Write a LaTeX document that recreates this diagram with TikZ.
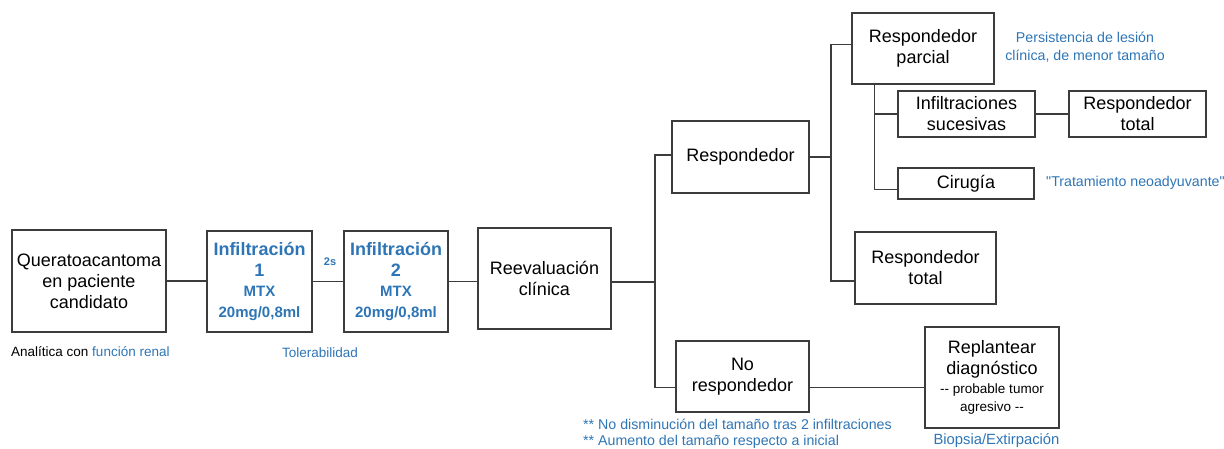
\documentclass[tikz,border=0pt]{standalone}
\usepackage{fontspec}
\setmainfont{Liberation Sans}
\newfontfamily\plainfont{Liberation Sans}
\definecolor{tblue}{RGB}{46,117,182}
\definecolor{lgray}{RGB}{60,60,60}
\begin{document}
\begin{tikzpicture}[x=1pt,y=-1pt,
  box/.style={draw=lgray,line width=1.1pt,rectangle,align=center,inner sep=0pt,font=\fontsize{18}{21}\selectfont},
  conn/.style={draw=lgray,line width=1.1pt},
  note/.style={text=tblue,inner sep=0pt,align=center,font=\fontsize{13.5}{18}\selectfont},
  bignote/.style={note,font=\fontsize{14.2}{18.5}\selectfont},
  infbox/.style={box,text=tblue,font=\fontsize{18}{20.5}\selectfont\bfseries}]
\useasboundingbox (0,0) rectangle (1224,449);
% boxes
\node[box,minimum width=154pt,minimum height=102pt] (q) at (89,281) {Queratoacantoma\\en paciente\\candidato};
\node[infbox,minimum width=105pt,minimum height=101pt] (i1) at (259.5,281.5) {Infiltración\\1\\{\fontsize{15}{20.5}\selectfont MTX}\\{\fontsize{15}{20.5}\selectfont 20mg/0,8ml}};
\node[infbox,minimum width=104pt,minimum height=101pt] (i2) at (396,281.5) {Infiltración\\2\\{\fontsize{15}{20.5}\selectfont MTX}\\{\fontsize{15}{20.5}\selectfont 20mg/0,8ml}};
\node[box,minimum width=133pt,minimum height=101pt] (re) at (544.5,278.5) {Reevaluación\\clínica};
\node[box,minimum width=137pt,minimum height=72pt] (resp) at (740.5,157) {Respondedor};
\node[box,minimum width=133pt,minimum height=71pt] (nr) at (742.5,376.5) {No\\respondedor};
\node[box,minimum width=142pt,minimum height=71pt] (par) at (923,48.5) {Respondedor\\parcial};
\node[box,minimum width=137pt,minimum height=46pt] (inf) at (966.5,114) {Infiltraciones\\sucesivas};
\node[box,minimum width=137pt,minimum height=46pt] (rt1) at (1137.5,114) {Respondedor\\total};
\node[box,minimum width=136pt,minimum height=31pt] (cir) at (966,183.5) {Cirugía};
\node[box,minimum width=141pt,minimum height=72pt] (rt2) at (925.5,268) {Respondedor\\total};
\node[box,minimum width=134pt,minimum height=101pt] (rep) at (992,377.5) {Replantear\\diagnóstico\\[-2pt]{\fontsize{13.5}{17}\plainfont --\ probable tumor}\\[-3pt]{\fontsize{13.5}{17}\plainfont agresivo --}};
% notes
\node[note,font=\fontsize{11}{13}\selectfont\bfseries] (s2) at (330,262) {2s};
\node[note,anchor=west,text=black] (an) at (11,352) {Analítica con \textcolor{tblue}{función renal}};
\node[note] (tol) at (320,353) {Tolerabilidad};
\node[bignote] (per) at (1085,47) {Persistencia de lesión\\clínica, de menor tamaño};
\node[bignote,anchor=west] (tn) at (1046,183) {{\plainfont "Tratamiento neoadyuvante"}};
\node[bignote,anchor=west,align=left,font=\fontsize{14.2}{16.5}\selectfont] (nd) at (583,433.5) {** No disminución del tamaño tras 2 infiltraciones\\** Aumento del tamaño respecto a inicial};
\node[bignote,font=\fontsize{14.8}{18}\selectfont] (bio) at (996.5,440.5) {Biopsia/Extirpación};
% connectors
\coordinate (b1) at (655,282);
\coordinate (b2) at (831,157);
\draw[conn] (q.east) -- (q.east -| i1.west);
\draw[conn] (i1.east) -- (i1.east -| i2.west);
\draw[conn] (i2.east) -- (i2.east -| re.west);
\draw[conn] (re.east |- b1) -- (b1);
\draw[conn] ([yshift=2pt]resp.west) -| (b1) |- ([yshift=-11pt]nr.west);
\draw[conn] (resp.east) -- (b2);
\draw[conn] ([yshift=4pt]par.west) -| (b2) |- ([yshift=-13pt]rt2.west);
\draw[conn] ([xshift=23pt]par.south west) |- (inf.west);
\draw[conn] ([xshift=23pt]par.south west) |- ([yshift=-6pt]cir.west);
\draw[conn] (inf.east) -- (inf.east -| rt1.west);
\draw[conn] ([yshift=-11pt]nr.east) -- ([yshift=-11pt]nr.east -| rep.west);
\end{tikzpicture}
\end{document}
